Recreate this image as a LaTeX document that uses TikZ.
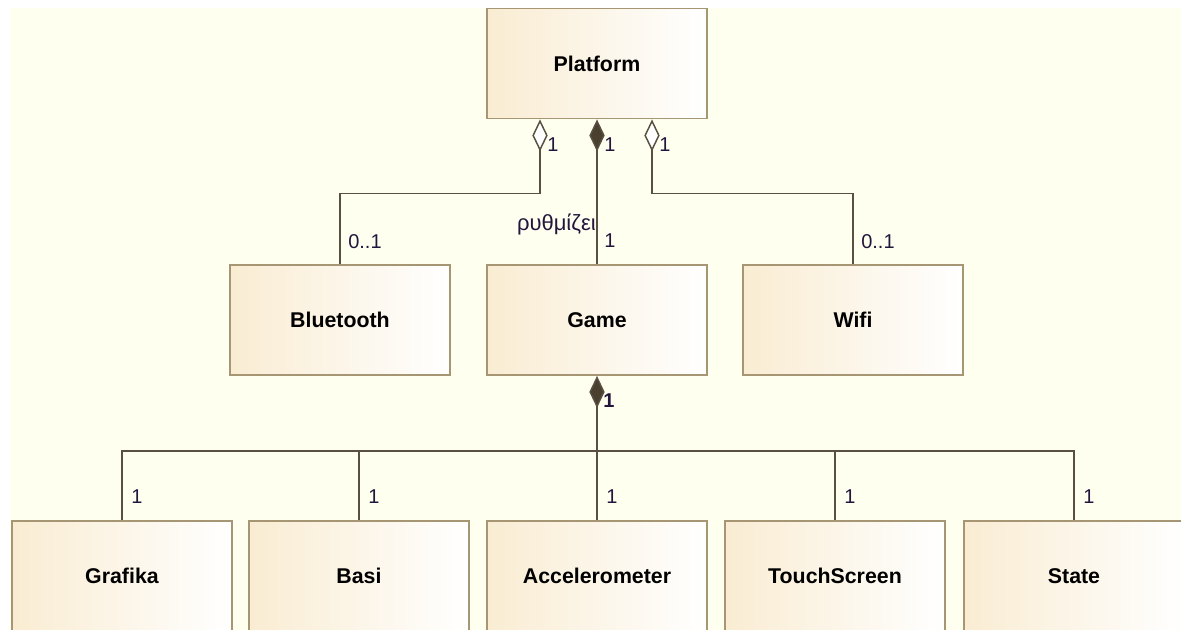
\documentclass[tikz,border=0pt]{standalone}
\usepackage{fontspec}
\setmainfont{Liberation Sans}
\usetikzlibrary{arrows.meta,calc}
\definecolor{bgc}{RGB}{255,255,240}
\definecolor{boxl}{RGB}{249,236,210}
\definecolor{boxd}{RGB}{166,150,116}
\definecolor{linec}{RGB}{88,80,64}
\definecolor{diac}{RGB}{74,64,48}
\definecolor{labc}{RGB}{35,22,60}
\tikzset{
  cls/.style={rectangle,draw=boxd,line width=1.4pt,left color=boxl,right color=white,
    minimum width=165pt,minimum height=82.5pt,inner sep=0pt,
    font=\fontsize{16}{19}\selectfont\bfseries,text=black},
  conn/.style={draw=linec,line width=1.2pt},
  aggr/.style={conn,{Diamond[open,fill=white,length=24pt,width=11.5pt,line width=1.1pt]}-},
  comp/.style={conn,{Diamond[fill=diac,length=24pt,width=11.5pt,line width=1.1pt]}-},
  lab/.style={inner sep=0pt,font=\fontsize{15}{18}\selectfont,text=labc},
}
\begin{document}
\begin{tikzpicture}[x=0.75pt,y=-0.75pt]
\useasboundingbox (0,0) rectangle (1181,630);
\clip (0,0) rectangle (1181,630);
\fill[bgc] (10,8) rectangle (1181,630);

\node[cls] (plat) at (597,63.5) {Platform};
\node[cls] (bt) at (340,320) {Bluetooth};
\node[cls] (game) at (597,320) {Game};
\node[cls] (wifi) at (853,320) {Wifi};
\node[cls] (g1) at (122,576) {Grafika};
\node[cls] (g2) at (359,576) {Basi};
\node[cls] (g3) at (597,576) {Accelerometer};
\node[cls] (g4) at (835,576) {TouchScreen};
\node[cls] (g5) at (1074,576) {State};

% Platform associations
\draw[aggr] ($(plat.south)+(-57,0)$) coordinate (pb) -- ++(0,74) -| (bt.north);
\draw[comp] (plat.south) -- (game.north);
\draw[aggr] ($(plat.south)+(55,0)$) coordinate (pw) -- ++(0,74) -| (wifi.north);

% Game composition
\draw[comp] (game.south) -- ++(0,75) coordinate (j);
\draw[conn] (j) -| (g1.north);
\draw[conn] (j) -| (g2.north);
\draw[conn] (j) -- (g3.north);
\draw[conn] (j) -| (g4.north);
\draw[conn] (j) -| (g5.north);

% labels
\node[lab,anchor=west] (l1) at ($(pb)+(7,25)$) {1};
\node[lab,anchor=west] (l2) at ($(plat.south)+(7,25)$) {1};
\node[lab,anchor=west] (l3) at ($(pw)+(7,25)$) {1};
\node[lab,anchor=east,font=\fontsize{16.5}{19}\selectfont] (l4) at (596,224) {ρυθμίζει};
\node[lab,anchor=west] (l5) at (604,241) {1};
\node[lab,anchor=west] (l6) at (348,242) {0..1};
\node[lab,anchor=west] (l7) at (861,242) {0..1};
\node[lab,anchor=west,font=\fontsize{15}{18}\selectfont\bfseries] (l8) at (603,401) {1};
\node[lab,anchor=west] (m1) at (131,497) {1};
\node[lab,anchor=west] (m2) at (368,497) {1};
\node[lab,anchor=west] (m3) at (606,497) {1};
\node[lab,anchor=west] (m4) at (844,497) {1};
\node[lab,anchor=west] (m5) at (1083,497) {1};
\end{tikzpicture}
\end{document}
